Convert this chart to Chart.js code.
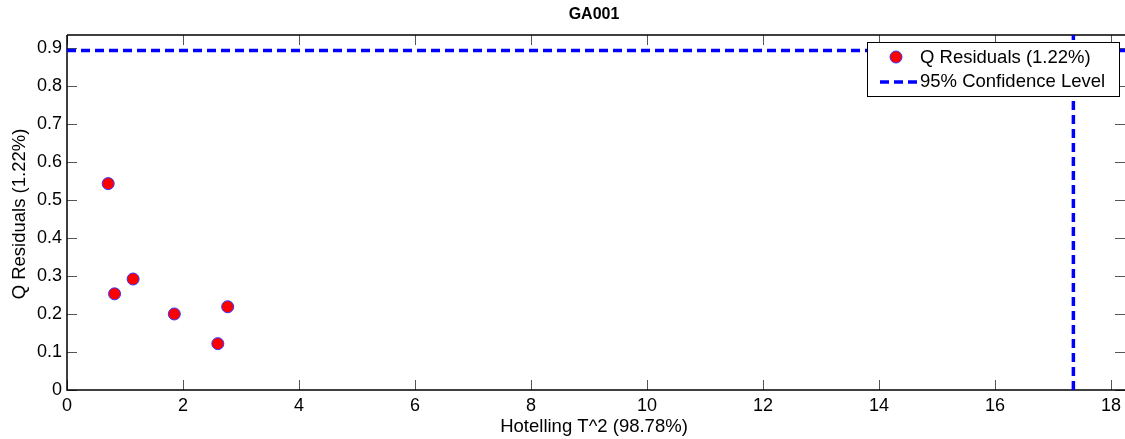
<!DOCTYPE html>
<html>
<head>
<meta charset="utf-8">
<script src="https://cdn.jsdelivr.net/npm/chart.js@4.4.1/dist/chart.umd.min.js"></script>
<style>
  html, body { margin: 0; padding: 0; background: #fff; }
  #wrap { position: relative; width: 1125px; height: 439px; }
</style>
</head>
<body>
<div id="wrap"><canvas id="c" width="1125" height="439"></canvas></div>
<script>
// ---- data ----
const chartTitle = "GA001";
const xAxisLabel = "Hotelling T^2 (98.78%)";
const yAxisLabel = "Q Residuals (1.22%)";
const seriesLabel = "Q Residuals (1.22%)";
const limitLabel = "95% Confidence Level";
const hotellingT2 = [0.71, 0.82, 1.14, 1.85, 2.60, 2.77];
const qResiduals = [0.543, 0.253, 0.292, 0.200, 0.122, 0.219];
const qLimit = 0.893;
const t2Limit = 17.35;
const xTickValues = [0, 2, 4, 6, 8, 10, 12, 14, 16, 18];
const yTickValues = [0, 0.1, 0.2, 0.3, 0.4, 0.5, 0.6, 0.7, 0.8, 0.9];
const xMin = 0, xMax = 18.24;
const yMin = 0, yMax = 0.934;

const FONT = "'Liberation Sans', Arial, sans-serif";

const points = hotellingT2.map((x, i) => ({ x: x, y: qResiduals[i] }));

const frame = {
  id: 'frame',
  beforeDatasetsDraw(chart) {
    const { ctx, chartArea: a, scales: { x, y } } = chart;
    ctx.save();
    ctx.strokeStyle = '#555';
    ctx.lineWidth = 1;
    const tl = 10;
    x.ticks.forEach(t => {
      const px = Math.round(x.getPixelForValue(t.value)) + 0.5;
      ctx.beginPath();
      ctx.moveTo(px, a.bottom); ctx.lineTo(px, a.bottom - tl);
      ctx.moveTo(px, a.top); ctx.lineTo(px, a.top + tl);
      ctx.stroke();
    });
    y.ticks.forEach(t => {
      const py = Math.round(y.getPixelForValue(t.value)) + 0.5;
      ctx.beginPath();
      ctx.moveTo(a.left, py); ctx.lineTo(a.left + tl, py);
      ctx.moveTo(a.right, py); ctx.lineTo(a.right - tl, py);
      ctx.stroke();
    });
    ctx.strokeStyle = '#000';
    ctx.lineWidth = 1.5;
    ctx.beginPath();
    ctx.moveTo(a.left, a.top); ctx.lineTo(a.right, a.top);
    ctx.moveTo(a.left, a.top); ctx.lineTo(a.left, a.bottom);
    ctx.lineTo(a.right, a.bottom);
    ctx.stroke();
    // x tick labels (drawn from the scale's ticks)
    ctx.fillStyle = '#000';
    ctx.font = '18px ' + FONT;
    ctx.textAlign = 'center';
    ctx.textBaseline = 'alphabetic';
    x.ticks.forEach(t => {
      ctx.fillText(String(t.value), x.getPixelForValue(t.value), 411);
    });
    // title
    ctx.font = 'bold 16px ' + FONT;
    ctx.textBaseline = 'middle';
    ctx.fillText(chartTitle, 594, 15);
    // axis labels
    ctx.font = '18.5px ' + FONT;
    ctx.fillText(xAxisLabel, 594, 427);
    ctx.save();
    ctx.translate(20, 214);
    ctx.rotate(-Math.PI / 2);
    ctx.fillText(yAxisLabel, 0, 0);
    ctx.restore();
    ctx.restore();
  },
  afterDatasetsDraw(chart) {
    const { ctx } = chart;
    ctx.save();
    const bx = 867.5, by = 42.5, bw = 252, bh = 54;
    ctx.fillStyle = '#fff';
    ctx.fillRect(bx, by, bw, bh);
    ctx.strokeStyle = '#000';
    ctx.lineWidth = 1;
    ctx.strokeRect(bx, by, bw, bh);
    // marker
    ctx.beginPath();
    ctx.arc(896, 57, 6, 0, Math.PI * 2);
    ctx.fillStyle = '#ff0000';
    ctx.fill();
    ctx.strokeStyle = '#3333ff';
    ctx.lineWidth = 1;
    ctx.stroke();
    // dashed line
    ctx.beginPath();
    ctx.setLineDash([9, 5]);
    ctx.strokeStyle = '#0000ff';
    ctx.lineWidth = 3.5;
    ctx.moveTo(880, 82); ctx.lineTo(918, 82);
    ctx.stroke();
    ctx.setLineDash([]);
    ctx.fillStyle = '#000';
    ctx.font = '18.5px ' + FONT;
    ctx.textAlign = 'left';
    ctx.textBaseline = 'middle';
    ctx.fillText(seriesLabel, 920, 58);
    ctx.fillText(limitLabel, 920, 82);
    ctx.restore();
  }
};

new Chart(document.getElementById('c'), {
  type: 'scatter',
  data: {
    datasets: [
      {
        label: seriesLabel,
        data: points,
        pointRadius: 6,
        pointHoverRadius: 6,
        pointBackgroundColor: '#ff0000',
        pointBorderColor: '#3333ff',
        pointBorderWidth: 1,
        showLine: false,
        order: 1
      },
      {
        label: limitLabel,
        data: [{ x: xMin, y: qLimit }, { x: xMax, y: qLimit }],
        showLine: true,
        borderColor: '#0000ff',
        borderWidth: 3.5,
        borderDash: [9, 5],
        pointRadius: 0,
        order: 2
      },
      {
        label: limitLabel,
        data: [{ x: t2Limit, y: yMin }, { x: t2Limit, y: yMax }],
        showLine: true,
        borderColor: '#0000ff',
        borderWidth: 3.5,
        borderDash: [9, 5],
        pointRadius: 0,
        order: 2
      }
    ]
  },
  options: {
    responsive: false,
    animation: false,
    devicePixelRatio: 1,
    layout: { autoPadding: false, padding: { top: 35, right: 0, left: 0, bottom: 0 } },
    plugins: {
      legend: { display: false },
      title: { display: false },
      tooltip: { enabled: false }
    },
    scales: {
      x: {
        type: 'linear',
        min: xMin, max: xMax,
        grid: { display: false, drawTicks: false },
        border: { display: false },
        afterBuildTicks(s) { s.ticks = xTickValues.map(v => ({ value: v })); },
        ticks: { display: false },
        afterFit(s) { s.height = 49; }
      },
      y: {
        type: 'linear',
        min: yMin, max: yMax,
        grid: { display: false, drawTicks: false },
        border: { display: false },
        afterBuildTicks(s) { s.ticks = yTickValues.map(v => ({ value: v })); },
        ticks: {
          color: '#000',
          font: { family: FONT, size: 18 },
          padding: 5,
          autoSkip: false,
          callback: v => (Math.round(v * 10) / 10).toString()
        },
        afterFit(s) { s.width = 67; }
      }
    }
  },
  plugins: [frame]
});
</script>
</body>
</html>
